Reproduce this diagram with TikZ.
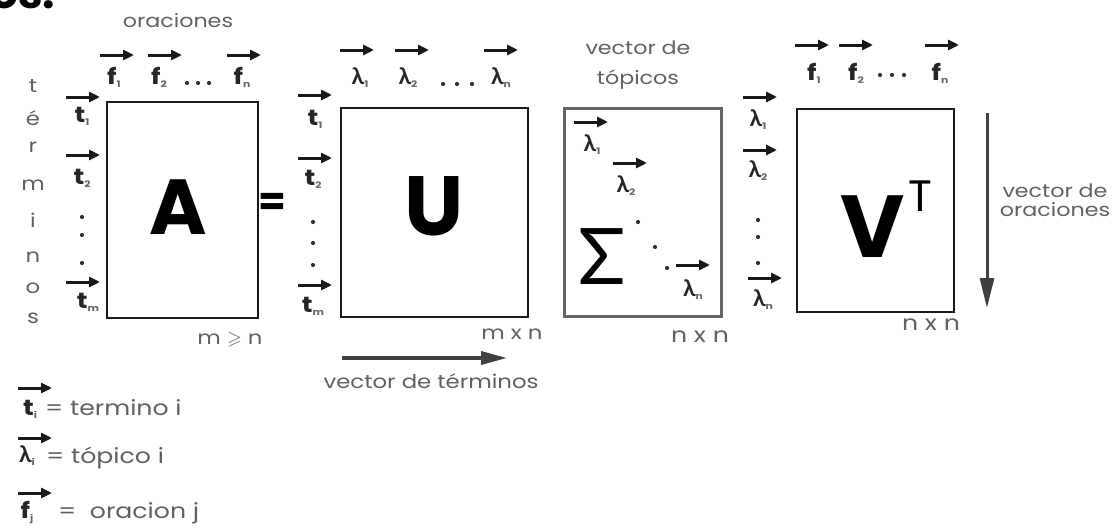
\documentclass[tikz,border=0pt]{standalone}
\usepackage{fontspec}
\usepackage{amssymb}
\setmainfont{Poppins}[FakeStretch=1.2]
\newfontfamily\plain{Poppins}
\newfontfamily\gk{Lato}
\usetikzlibrary{arrows.meta,calc}
\newcommand\sbx[1]{\raisebox{-3pt}{\fontsize{9}{9}\selectfont\color{black!60}#1}}
\newcommand\lam{{\gk\bfseries\fontsize{23}{23}\selectfont λ}}
\newcommand\fs[1]{\fontsize{#1}{#1}\selectfont}
% name, x, y, dy (arrow above label centre), dx (arrow shift), content
\newcommand\vlab[6]{%
  \node[lab] (#1) at (#2,#3) {#6};
  \draw[varrow] ($(#1.center)+(#5-17,-#4)$) -- ($(#1.center)+(#5+17,-#4)$);}
\tikzset{
  lab/.style={inner sep=0pt, font=\bfseries\fs{22}, text=black!85},
  txt/.style={inner sep=0pt, font=\fs{19}, text=black!62},
  varrow/.style={line width=3pt, draw=black!90, -{Triangle[length=11pt,width=10pt]}},
  mat/.style={draw=black!90, line width=2pt, inner sep=0pt},
  big/.style={inner sep=0pt, font=\plain\bfseries\fs{78}},
  bigarrow/.style={line width=3.5pt, draw=black!75, -{Triangle[length=26pt,width=13pt]}},
  dot/.style={fill=black!80}
}
\begin{document}
\begin{tikzpicture}[x=1pt,y=-1pt]
\useasboundingbox (0,0) rectangle (1117,530);
\fill[white] (0,0) rectangle (1117,530);
% clipped heading
\node[anchor=base west, inner sep=0pt, font=\plain\bfseries\fs{44}] (hdr) at (-10,9) {os.};

% ---------- matrix A ----------
\node[mat, anchor=north west, minimum width=151pt, minimum height=216pt] (A) at (106,101) {};
\node[big] (Al) at (178,207) {A};
\node[inner sep=0pt, font=\plain\bfseries\fs{40}] (eq) at (272,204) {=};
\node[txt, font=\fs{18.5}] (orac) at (178,21) {oraciones};
\foreach \c/\y [count=\i] in {t/92,é/125,r/152,m/190,i/227,n/262,o/293,s/323}
  \node[txt, anchor=base] (col\i) at (33,\y) {\c};
\vlab{fA1}{114}{77}{22}{3}{f\sbx{1}}
\vlab{fA2}{159}{77}{22}{6}{f\sbx{2}}
\vlab{fAn}{242}{77}{22}{2}{f\sbx{n}}
\foreach \x in {187,198,209} \fill[dot] (\x,83) circle (2.1);
\vlab{tA1}{82}{116}{19}{1}{t\sbx{1}}
\vlab{tA2}{82}{178}{23}{1}{t\sbx{2}}
\vlab{tAm}{88}{302}{20}{-5}{t\sbx{m}}
\foreach \y in {217,235,263} \fill[dot] (82,\y) circle (2.1);
\node[txt] (mgn) at (230,340) {m $\geqslant$ n};

% ---------- matrix U ----------
\node[mat, anchor=north west, minimum width=187pt, minimum height=209pt] (U) at (340,107) {};
\node[big, font=\plain\bfseries\fs{84}] (Ul) at (434,206) {U};
\vlab{lU1}{360}{78}{28}{-3}{\lam\sbx{1}}
\vlab{lU2}{408}{78}{28}{4}{\lam\sbx{2}}
\vlab{lUn}{501}{78}{28}{0}{\lam\sbx{n}}
\foreach \x in {443,457,472} \fill[dot] (\x,84) circle (2.1);
\vlab{tU1}{315}{119}{24}{0}{t\sbx{1}}
\vlab{tU2}{313}{179}{21}{2}{t\sbx{2}}
\vlab{tUm}{313}{306}{21}{2}{t\sbx{m}}
\foreach \y in {222,243,265} \fill[dot] (313,\y) circle (2.1);
\node[txt] (mxn) at (512,334) {m x n};
\coordinate (vt1) at (342,358);
\coordinate (vt2) at (507,358);
\draw[bigarrow] (vt1) -- (vt2);
\node[txt] (vterm) at (431,381) {vector de términos};

% ---------- matrix Sigma ----------
\node[mat, draw=black!60, line width=3pt, anchor=north west, minimum width=157pt, minimum height=208pt] (S) at (563,107) {};
\node[txt, font=\fs{18.5}] (vtop1) at (638,48) {vector de};
\node[txt, font=\fs{18.5}] (vtop2) at (638,80) {tópicos};
\vlab{lS1}{592}{145}{23}{-1}{\lam\sbx{1}}
\vlab{lS2}{626}{186}{23}{4}{\lam\sbx{2}}
\vlab{lSn}{693}{290}{25}{0}{\lam\sbx{n}}
\node[inner sep=0pt, font=\gk\fs{78}] (Sl) at (602,257) {Σ};
\fill[dot] (638,222) circle (2.1);
\fill[dot] (655,247) circle (2.1);
\fill[dot] (667,268) circle (2.1);
\node[txt, font=\fs{21}] (nxn1) at (700,337) {n x n};

% ---------- matrix V^T ----------
\node[mat, anchor=north west, minimum width=157pt, minimum height=203pt] (V) at (796,108) {};
\node[big, font=\plain\bfseries\fs{88}] (Vl) at (873,227) {V};
\node[inner sep=0pt, font=\plain\fs{44}] (Tl) at (920,196) {T};
\vlab{lV1}{758}{120}{23}{2}{\lam\sbx{1}}
\vlab{lV2}{758}{171}{21}{2}{\lam\sbx{2}}
\vlab{lVn}{763}{300}{22}{2}{\lam\sbx{n}}
\foreach \y in {220,237,263} \fill[dot] (758,\y) circle (2.1);
\vlab{fV1}{814}{73}{28}{-2}{f\sbx{1}}
\vlab{fV2}{856}{73}{28}{0}{f\sbx{2}}
\vlab{fVn}{940}{73}{28}{2}{f\sbx{n}}
\foreach \x in {880,892,904} \fill[dot] (\x,75) circle (2.1);
\node[txt, font=\fs{21}] (nxn2) at (931,325) {n x n};
\coordinate (vo1) at (987,113);
\coordinate (vo2) at (987,308);
\draw[bigarrow, line width=3pt, -{Triangle[length=30pt,width=14pt]}] (vo1) -- (vo2);
\node[txt, align=center, font=\fontsize{18.5}{18.5}\selectfont] (vor) at (1055,200) {vector de\\oraciones};

% ---------- legend ----------
\vlab{tL}{30}{409}{21}{5}{t\sbx{i}}
\node[txt, anchor=west, font=\fs{21}] (tLt) at (45,408) {=\ termino i};
\vlab{lL}{27}{456}{18}{8}{\lam\sbx{i}}
\node[txt, anchor=west, font=\fs{21}] (lLt) at (46,458) {=\ tópico i};
\vlab{fL}{27}{513}{20}{8}{f\sbx{j}}
\node[txt, anchor=west, font=\fs{21}] (fLt) at (58,513) {=\ \ oracion j};
\end{tikzpicture}
\end{document}
